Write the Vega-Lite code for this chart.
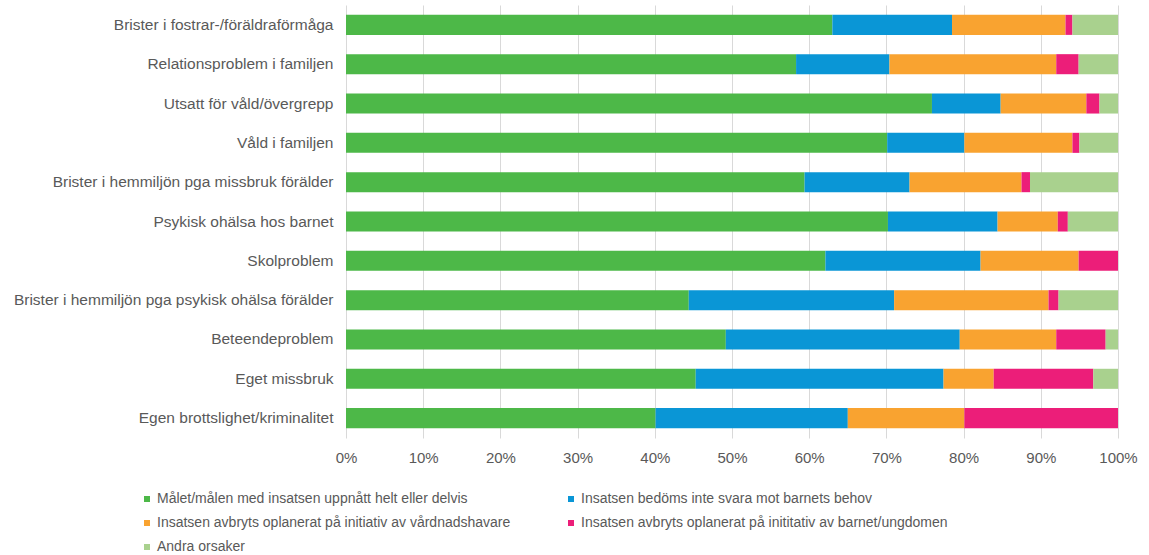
{
  "$schema": "https://vega.github.io/schema/vega-lite/v6.json",
  "width": 772,
  "height": 433,
  "autosize": {"type": "none"},
  "padding": {"left": 346, "top": 5, "right": 31, "bottom": 117},
  "background": "white",
  "config": {
    "view": {"stroke": null},
    "font": "Liberation Sans"
  },
  "datasets": {
    "rows": [
      {"omrade": "Brister i fostrar-/föräldraförmåga", "m": 63.0, "b": 15.5, "v": 14.7, "u": 0.9, "a": 5.9},
      {"omrade": "Relationsproblem i familjen", "m": 58.3, "b": 12.1, "v": 21.6, "u": 2.9, "a": 5.1},
      {"omrade": "Utsatt för våld/övergrepp", "m": 75.9, "b": 8.9, "v": 11.1, "u": 1.7, "a": 2.4},
      {"omrade": "Våld i familjen", "m": 70.1, "b": 10.0, "v": 14.0, "u": 0.9, "a": 5.0},
      {"omrade": "Brister i hemmiljön pga missbruk förälder", "m": 59.4, "b": 13.6, "v": 14.5, "u": 1.1, "a": 11.4},
      {"omrade": "Psykisk ohälsa hos barnet", "m": 70.2, "b": 14.2, "v": 7.8, "u": 1.3, "a": 6.5},
      {"omrade": "Skolproblem", "m": 62.1, "b": 20.1, "v": 12.7, "u": 5.1, "a": 0},
      {"omrade": "Brister i hemmiljön pga psykisk ohälsa förälder", "m": 44.4, "b": 26.6, "v": 20.0, "u": 1.3, "a": 7.7},
      {"omrade": "Beteendeproblem", "m": 49.2, "b": 30.3, "v": 12.5, "u": 6.4, "a": 1.6},
      {"omrade": "Eget missbruk", "m": 45.3, "b": 32.1, "v": 6.5, "u": 12.9, "a": 3.2},
      {"omrade": "Egen brottslighet/kriminalitet", "m": 40.1, "b": 24.9, "v": 15.1, "u": 19.9, "a": 0}
    ],
    "causes": [
      {"key": "m", "orsak": "Målet/målen med insatsen uppnått helt eller delvis", "ord": 1},
      {"key": "b", "orsak": "Insatsen bedöms inte svara mot barnets behov", "ord": 2},
      {"key": "v", "orsak": "Insatsen avbryts oplanerat på initiativ av vårdnadshavare", "ord": 3},
      {"key": "u", "orsak": "Insatsen avbryts oplanerat på inititativ av barnet/ungdomen", "ord": 4},
      {"key": "a", "orsak": "Andra orsaker", "ord": 5}
    ]
  },
  "data": {"name": "rows"},
  "transform": [
    {"fold": ["m", "b", "v", "u", "a"], "as": ["key", "value"]},
    {"lookup": "key", "from": {"data": {"name": "causes"}, "key": "key", "fields": ["orsak", "ord"]}}
  ],
  "mark": {"type": "bar"},
  "encoding": {
    "y": {
      "field": "omrade",
      "type": "nominal",
      "sort": [
        "Brister i fostrar-/föräldraförmåga",
        "Relationsproblem i familjen",
        "Utsatt för våld/övergrepp",
        "Våld i familjen",
        "Brister i hemmiljön pga missbruk förälder",
        "Psykisk ohälsa hos barnet",
        "Skolproblem",
        "Brister i hemmiljön pga psykisk ohälsa förälder",
        "Beteendeproblem",
        "Eget missbruk",
        "Egen brottslighet/kriminalitet"
      ],
      "scale": {"paddingInner": 0.49, "paddingOuter": 0.25},
      "axis": {
        "title": null,
        "domain": false,
        "ticks": false,
        "labelPadding": 13,
        "labelFontSize": 15.5,
        "labelColor": "#595959",
        "labelLimit": 400
      }
    },
    "x": {
      "field": "value",
      "type": "quantitative",
      "stack": "normalize",
      "scale": {"domain": [0, 1], "nice": false},
      "axis": {
        "title": null,
        "format": "%",
        "values": [0, 0.1, 0.2, 0.3, 0.4, 0.5, 0.6, 0.7, 0.8, 0.9, 1],
        "domain": false,
        "ticks": false,
        "grid": true,
        "gridColor": "#d9d9d9",
        "labelPadding": 12,
        "labelFontSize": 15,
        "labelColor": "#595959",
        "labelFlush": false
      }
    },
    "order": {"field": "ord", "type": "quantitative", "sort": "ascending"},
    "color": {
      "field": "orsak",
      "type": "nominal",
      "sort": [
        "Målet/målen med insatsen uppnått helt eller delvis",
        "Insatsen bedöms inte svara mot barnets behov",
        "Insatsen avbryts oplanerat på initiativ av vårdnadshavare",
        "Insatsen avbryts oplanerat på inititativ av barnet/ungdomen",
        "Andra orsaker"
      ],
      "scale": {
        "domain": [
          "Målet/målen med insatsen uppnått helt eller delvis",
          "Insatsen bedöms inte svara mot barnets behov",
          "Insatsen avbryts oplanerat på initiativ av vårdnadshavare",
          "Insatsen avbryts oplanerat på inititativ av barnet/ungdomen",
          "Andra orsaker"
        ],
        "range": ["#4db848", "#0a96d6", "#f9a330", "#ec1e79", "#a9d18e"]
      },
      "legend": {
        "title": null,
        "orient": "none",
        "legendX": -206,
        "legendY": 487,
        "direction": "horizontal",
        "columns": 2,
        "symbolType": "square",
        "symbolSize": 36,
        "symbolStrokeWidth": 0,
        "labelFont": "Liberation Sans",
        "labelFontSize": 14,
        "labelColor": "#595959",
        "labelLimit": 450,
        "labelOffset": 3,
        "rowPadding": 10,
        "columnPadding": 53
      }
    }
  }
}
